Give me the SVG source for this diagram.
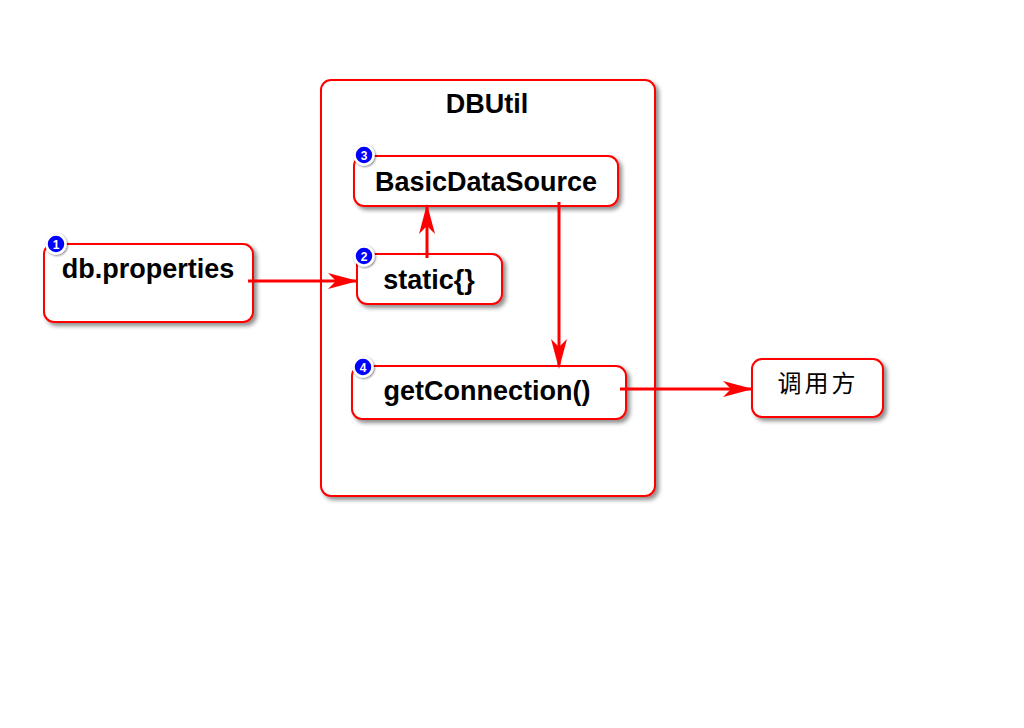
<svg xmlns="http://www.w3.org/2000/svg" width="1024" height="728" viewBox="0 0 1024 728">
<style>
.box{fill:#fff;stroke:#f00;stroke-width:2;filter:url(#sh)}
.t{font-family:"Liberation Sans",Arial,sans-serif;font-weight:bold;font-size:27px;fill:#000;text-anchor:middle}
.cjk{font-family:"Noto Sans CJK SC",sans-serif;font-size:24px;letter-spacing:3px;fill:#000;text-anchor:middle}
.badge circle{fill:#00f;stroke:#fff;stroke-width:2.5;filter:url(#bsh)}
.badge text{font-family:"Liberation Sans",Arial,sans-serif;font-weight:bold;font-size:12px;fill:#fff;text-anchor:middle}
</style>
<defs>
<filter id="sh" x="-10%" y="-10%" width="130%" height="140%">
<feDropShadow dx="3" dy="3" stdDeviation="2" flood-color="#000" flood-opacity="0.45"/>
</filter>
<filter id="bsh" x="-50%" y="-50%" width="200%" height="200%">
<feDropShadow dx="1" dy="1" stdDeviation="1" flood-color="#000" flood-opacity="0.5"/>
</filter>
<marker id="ah2" markerWidth="30" markerHeight="16" refX="28" refY="8" orient="auto" markerUnits="userSpaceOnUse" viewBox="0 0 30 16">
<path d="M0,0 L30,8 L0,16 L8,8 Z" fill="#f00"/>
</marker>
</defs>
<rect width="1024" height="728" fill="#fff"/>
<g id="dbutil">
<rect class="box" x="321" y="80" width="334" height="416" rx="10"/>
<text class="t" x="487" y="113">DBUtil</text>
</g>
<g id="dbprops">
<rect class="box" x="44" y="244" width="209" height="78" rx="10"/>
<text class="t" x="148" y="278">db.properties</text>
<g class="badge"><circle cx="56" cy="244" r="9.5"/><text x="56" y="248.5">1</text></g>
</g>
<g id="bds">
<rect class="box" x="354" y="156" width="264" height="50" rx="10"/>
<text class="t" x="486" y="191">BasicDataSource</text>
<g class="badge"><circle cx="364" cy="155" r="9.5"/><text x="364" y="159.5">3</text></g>
</g>
<g id="static">
<rect class="box" x="357" y="254" width="145" height="50" rx="10"/>
<text class="t" x="429" y="289">static{}</text>
<g class="badge"><circle cx="364" cy="256" r="9.5"/><text x="364" y="260.5">2</text></g>
</g>
<g id="getconn">
<rect class="box" x="352" y="366" width="274" height="53" rx="10"/>
<text class="t" x="487" y="400">getConnection()</text>
<g class="badge"><circle cx="363" cy="367" r="9.5"/><text x="363" y="371.5">4</text></g>
</g>
<g id="caller">
<rect class="box" x="752" y="359" width="131" height="58" rx="10"/>
<text class="cjk" x="818" y="392">调用方</text>
</g>
<g id="connectors">
<path d="M248,281 H356" stroke="#f00" stroke-width="3" fill="none" marker-end="url(#ah2)"/>
<path d="M427,258 V206" stroke="#f00" stroke-width="3" fill="none" marker-end="url(#ah2)"/>
<path d="M559,202 V367" stroke="#f00" stroke-width="3" fill="none" marker-end="url(#ah2)"/>
<path d="M620,389 H751" stroke="#f00" stroke-width="3" fill="none" marker-end="url(#ah2)"/>
</g>
</svg>
